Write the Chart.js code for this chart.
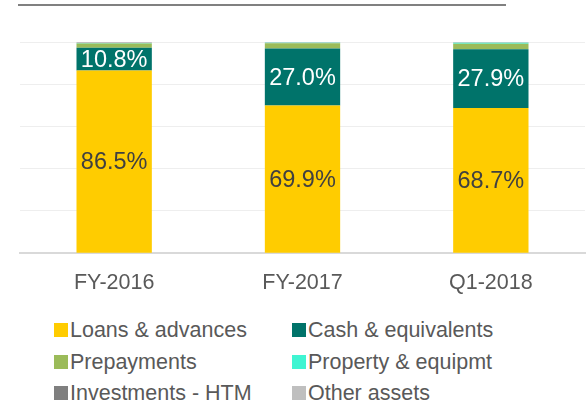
<!DOCTYPE html>
<html>
<head>
<meta charset="utf-8">
<script src="https://cdn.jsdelivr.net/npm/chart.js@4"></script>
<style>
  body { margin: 0; background: #fff; font-family: "Liberation Sans", Arial, sans-serif; overflow: hidden; }
  #wrap { position: relative; width: 586px; height: 405px; overflow: hidden; }
  #topline { position: absolute; left: 18px; top: 4px; width: 488px; height: 2px; background: #808080; }
  #chart { position: absolute; left: 0; top: 0; }
  #legend { position: absolute; left: 54px; top: 318px; width: 532px; }
  .item { position: absolute; display: flex; align-items: center; font-size: 21.5px; line-height: 24px; color: #595959; white-space: nowrap; }
  .box { width: 14px; height: 14px; margin-right: 2px; }
</style>
</head>
<body>
<div id="wrap">
  <div id="topline"></div>
  <canvas id="chart" width="586" height="305"></canvas>
  <div id="legend"></div>
</div>
<script>
        const categories = ['FY-2016', 'FY-2017', 'Q1-2018'];
        const loans = [86.5, 69.9, 68.7];
        const cash = [10.8, 27.0, 27.9];
        const prepayments = [2.0, 2.5, 2.6];
        const property = [0.2, 0.2, 0.4];
        const investments = [0, 0, 0];
        const other = [0.5, 0.4, 0.4];

        const series = [
            { label: 'Loans & advances', data: loans, color: '#FFCC00', text: '#404040' },
            { label: 'Cash & equivalents', data: cash, color: '#00736A', text: '#ffffff' },
            { label: 'Prepayments', data: prepayments, color: '#9BBB59' },
            { label: 'Property & equipmt', data: property, color: '#3FF5D2' },
            { label: 'Investments - HTM', data: investments, color: '#7F7F7F' },
            { label: 'Other assets', data: other, color: '#BFBFBF' }
        ];

        // draw the % values inside the two big segments
        const valueLabels = {
            id: 'valueLabels',
            afterDatasetsDraw(chart) {
                let ctx = chart.ctx;
                ctx.save();
                ctx.font = '23.5px "Liberation Sans", Arial, sans-serif';
                ctx.textAlign = 'center';
                ctx.textBaseline = 'middle';
                chart.data.datasets.forEach((ds, i) => {
                    if (!ds.textColor) return;
                    chart.getDatasetMeta(i).data.forEach((bar, j) => {
                        let p = bar.getCenterPoint();
                        ctx.fillStyle = ds.textColor;
                        ctx.fillText(ds.data[j].toFixed(1) + '%', p.x, p.y + 1);
                    });
                });
                ctx.restore();
            }
        };

        function createChart() {
            let ctx = document.getElementById('chart').getContext('2d');
            new Chart(ctx, {
                type: 'bar',
                data: {
                    labels: categories,
                    datasets: series.map(s => ({
                        label: s.label,
                        data: s.data,
                        backgroundColor: s.color,
                        textColor: s.text,
                        barPercentage: 0.4,
                        categoryPercentage: 1
                    }))
                },
                options: {
                    responsive: false,
                    animation: false,
                    layout: { padding: { top: 42, left: 20, right: 1, bottom: 0 } },
                    plugins: { legend: { display: false }, tooltip: { enabled: false } },
                    scales: {
                        x: {
                            stacked: true,
                            grid: { display: false },
                            border: { color: '#D9D9D9', width: 2 },
                            ticks: { color: '#595959', font: { size: 21.5, family: '"Liberation Sans", Arial, sans-serif' }, padding: 9 }
                        },
                        y: {
                            stacked: true,
                            min: 0,
                            max: 100,
                            ticks: { display: false, stepSize: 20 },
                            grid: { color: '#EEEEEE', drawTicks: false },
                            border: { display: false }
                        }
                    }
                },
                plugins: [valueLabels]
            });
        }

        function fillLegend() {
            let legend = document.getElementById('legend');
            series.forEach((s, i) => {
                let item = document.createElement('div');
                item.className = 'item';
                item.style.left = (i % 2 ? 238 : 0) + 'px';
                item.style.top = (Math.floor(i / 2) * 31.5) + 'px';
                item.innerHTML = '<div class="box" style="background:' + s.color + '"></div>' + s.label;
                legend.appendChild(item);
            });
        }

        createChart();
        fillLegend();
</script>
</body>
</html>
